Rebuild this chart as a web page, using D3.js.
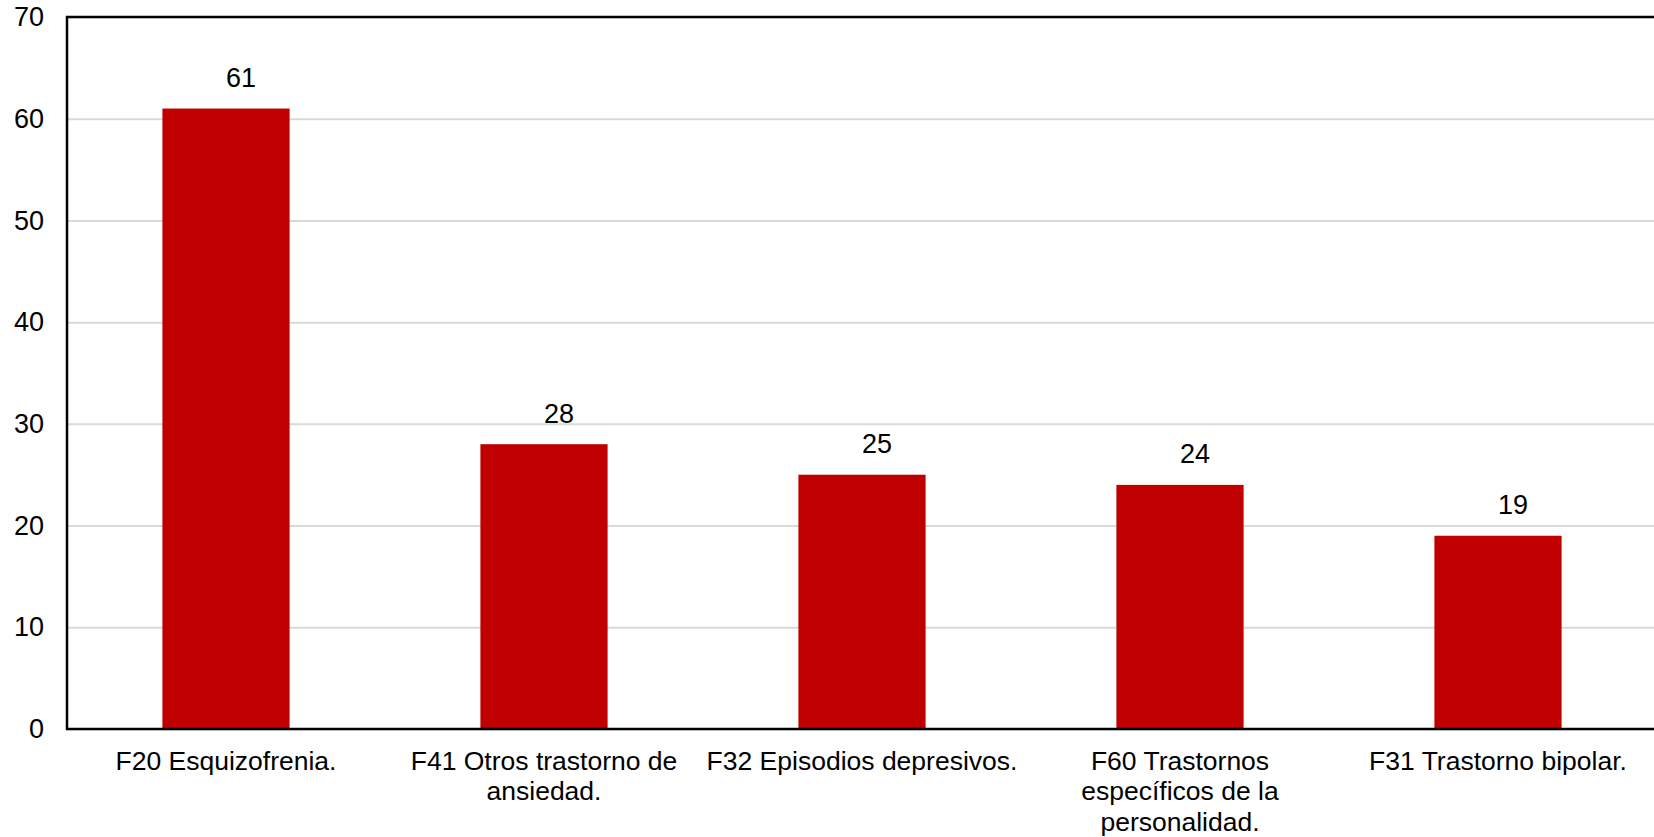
<!DOCTYPE html>
<html>
<head>
<meta charset="utf-8">
<script src="https://cdn.jsdelivr.net/npm/d3@7"></script>
<style>
  body { margin: 0; background: #ffffff; }
  text { font-family: "Liberation Sans", Arial, sans-serif; fill: #000000; }
</style>
</head>
<body>
<div id="chart"></div>
<script>
// Data
var categories = [
  "F20 Esquizofrenia.",
  "F41 Otros trastorno de\nansiedad.",
  "F32 Episodios depresivos.",
  "F60 Trastornos\nespecíficos de la\npersonalidad.",
  "F31 Trastorno bipolar."
];
var values = [61, 28, 25, 24, 19];
var yTicks = [0, 10, 20, 30, 40, 50, 60, 70];

var svgWidth = 1654;
var svgHeight = 837;

var margin = {
  top: 17,
  right: -3,
  bottom: 108,
  left: 67
};

var width = svgWidth - margin.left - margin.right;
var height = svgHeight - margin.top - margin.bottom;

var svg = d3.select("#chart")
  .append("svg")
  .attr("width", svgWidth)
  .attr("height", svgHeight);

var chartGroup = svg.append("g")
  .attr("transform", `translate(${margin.left}, ${margin.top})`);

// scales
var xBandScale = d3.scaleBand()
  .domain(categories)
  .range([0, width])
  .paddingInner(0.6)
  .paddingOuter(0.3);

var yLinearScale = d3.scaleLinear()
  .domain([0, 70])
  .range([height, 0]);

// gridlines
chartGroup.append("g")
  .attr("class", "grid")
  .call(d3.axisLeft(yLinearScale).tickValues(yTicks).tickSize(-width).tickFormat(""))
  .call(g => g.select(".domain").remove())
  .call(g => g.selectAll("line").attr("stroke", "#d9d9d9").attr("stroke-width", 2));

// y tick labels
chartGroup.append("g")
  .call(d3.axisLeft(yLinearScale).tickValues(yTicks).tickSize(0).tickPadding(23))
  .call(g => g.select(".domain").remove())
  .call(g => g.selectAll("text")
    .style("font-size", "27px")
    .style("font-family", "'Liberation Sans', Arial, sans-serif")
    .attr("fill", "#000"));

// bars
chartGroup.selectAll(".bar")
  .data(values)
  .enter()
  .append("rect")
  .attr("class", "bar")
  .attr("x", (d, i) => xBandScale(categories[i]))
  .attr("y", d => yLinearScale(d))
  .attr("width", xBandScale.bandwidth())
  .attr("height", d => height - yLinearScale(d))
  .attr("fill", "#c00000");

// value labels (sit a little right of the bar centre, as in the original)
chartGroup.selectAll(".value")
  .data(values)
  .enter()
  .append("text")
  .attr("class", "value")
  .attr("x", (d, i) => xBandScale(categories[i]) + xBandScale.bandwidth() / 2 + 15)
  .attr("y", d => yLinearScale(d) - 21.5)
  .attr("text-anchor", "middle")
  .style("font-size", "27px")
  .text(d => d);

// plot frame (left, top, bottom visible)
chartGroup.append("rect")
  .attr("x", 0)
  .attr("y", 0)
  .attr("width", width)
  .attr("height", height)
  .attr("fill", "none")
  .attr("stroke", "#000")
  .attr("stroke-width", 2.5);

// category labels, wrapped on \n
var catGroup = chartGroup.append("g")
  .attr("transform", `translate(0, ${height})`);

categories.forEach(function(c) {
  var t = catGroup.append("text")
    .attr("x", xBandScale(c) + xBandScale.bandwidth() / 2)
    .attr("y", 40.8)
    .attr("text-anchor", "middle")
    .style("font-size", "26.5px");
  c.split("\n").forEach(function(line, i) {
    t.append("tspan")
      .attr("x", xBandScale(c) + xBandScale.bandwidth() / 2)
      .attr("dy", i === 0 ? 0 : 30.5)
      .text(line);
  });
});
</script>
</body>
</html>
